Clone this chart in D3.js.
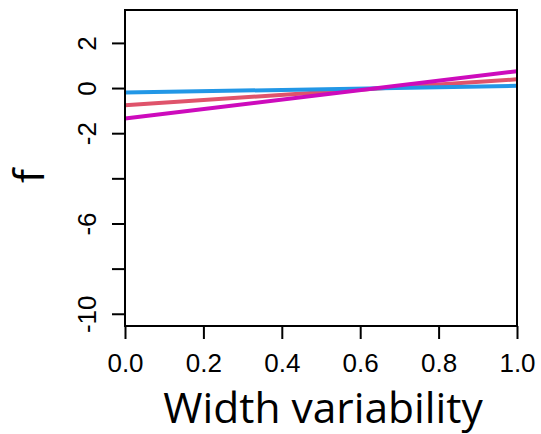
<!DOCTYPE html>
<html>
<head>
<meta charset="utf-8">
<script src="https://cdn.jsdelivr.net/npm/d3@7"></script>
<style>
  html, body { margin: 0; padding: 0; background: #fff; }
  svg { display: block; }
</style>
</head>
<body>
<svg id="chart" width="541" height="434"></svg>
<script>
// Fitted effect of width variability on f, one straight line per group
const xValues = [0, 1];
const seriesBlue = [-0.18, 0.12];
const seriesRed = [-0.74, 0.41];
const seriesMagenta = [-1.33, 0.77];
const seriesColors = ["#DF536B", "#2297E6", "#CD0BBC"];

const xTicks = [0, 0.2, 0.4, 0.6, 0.8, 1.0];
const yTicks = [2, 0, -2, -4, -6, -8, -10];
const yTickLabels = ["2", "0", "-2", "", "-6", "", "-10"];

const svg = d3.select("#chart");
const plotLeft = 125, plotRight = 517, plotTop = 10, plotBottom = 326;

const x = d3.scaleLinear().domain([0, 1]).range([plotLeft, plotRight]);
const y = d3.scaleLinear().domain([-10.52, 3.48]).range([plotBottom, plotTop]);

const font = "'Liberation Sans', Arial, sans-serif";

// series
const line = d3.line().x(d => x(d[0])).y(d => y(d[1]));
const series = [seriesRed, seriesBlue, seriesMagenta];
series.forEach((vals, i) => {
  svg.append("path")
    .datum(xValues.map((xv, j) => [xv, vals[j]]))
    .attr("d", line)
    .attr("fill", "none")
    .attr("stroke", seriesColors[i])
    .attr("stroke-width", 4);
});

// plot frame
svg.append("rect")
  .attr("x", plotLeft).attr("y", plotTop)
  .attr("width", plotRight - plotLeft).attr("height", plotBottom - plotTop)
  .attr("fill", "none").attr("stroke", "#000").attr("stroke-width", 2);

// x axis
const xAxis = d3.axisBottom(x).tickValues(xTicks).tickFormat(d3.format(".1f"))
  .tickSize(13).tickPadding(15);
const gx = svg.append("g").attr("transform", `translate(0,${plotBottom})`).call(xAxis);
gx.select(".domain").remove();
gx.selectAll("line").attr("stroke", "#000").attr("stroke-width", 2);
gx.selectAll("text").attr("font-family", font).attr("font-size", 26).attr("fill", "#000");

// y axis
const yAxis = d3.axisLeft(y).tickValues(yTicks)
  .tickFormat((d, i) => yTickLabels[i]).tickSize(13).tickPadding(0);
const gy = svg.append("g").attr("transform", `translate(${plotLeft},0)`).call(yAxis);
gy.select(".domain").remove();
gy.selectAll("line").attr("stroke", "#000").attr("stroke-width", 2);
gy.selectAll(".tick").attr("transform", null);
gy.selectAll(".tick line").attr("y1", d => y(d)).attr("y2", d => y(d));
gy.selectAll(".tick text")
  .attr("font-family", font).attr("font-size", 26).attr("fill", "#000")
  .attr("x", null).attr("y", null).attr("dy", "0.35em")
  .attr("text-anchor", "middle")
  .attr("transform", d => `translate(-38,${y(d)}) rotate(-90)`);

// axis titles
svg.append("text")
  .attr("x", (plotLeft + plotRight) / 2 + 2).attr("y", 423)
  .attr("text-anchor", "middle")
  .attr("font-family", "'Open Sans', sans-serif").attr("font-size", 42.5)
  .attr("fill", "#000")
  .text("Width variability");

svg.append("text")
  .attr("transform", `translate(44,176) rotate(-90)`)
  .attr("text-anchor", "middle")
  .attr("font-family", "'Open Sans', sans-serif").attr("font-size", 42)
  .attr("fill", "#000")
  .text("f");
</script>
</body>
</html>
